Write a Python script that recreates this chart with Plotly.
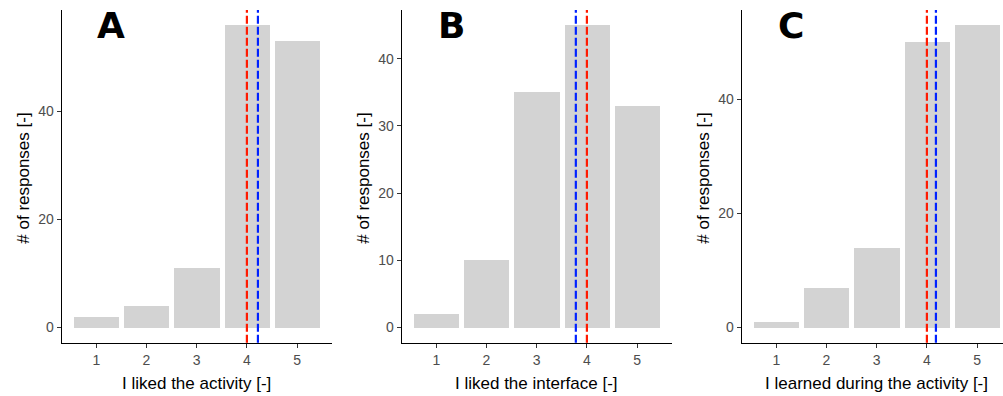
import plotly.graph_objects as go

# ---- data ----
ratings = [1, 2, 3, 4, 5]
counts_activity = [2, 4, 11, 56, 53]
counts_interface = [2, 10, 35, 45, 33]
counts_learned = [1, 7, 14, 50, 53]
medians = [4, 4, 4]
means = [4.22, 3.78, 4.18]
panel_letters = ["A", "B", "C"]
x_titles = ["I liked the activity [-]", "I liked the interface [-]", "I learned during the activity [-]"]
y_title = "# of responses [-]"
y_ticks = [[0, 20, 40], [0, 10, 20, 30, 40], [0, 20, 40]]

W, H = 1003, 396
FONT = "Liberation Sans, Arial, sans-serif"

fig = go.Figure()

series = [counts_activity, counts_interface, counts_learned]
lefts = [61.7, 401.7, 741.7]
plot_w = 270.0
top_px, bot_px = 10.0, 342.7
xr_full = [0.31, 5.69]
px_per_unit = plot_w / (xr_full[1] - xr_full[0])

for i, counts in enumerate(series):
    n = i + 1
    xa = "x" if n == 1 else f"x{n}"
    ya = "y" if n == 1 else f"y{n}"
    fig.add_trace(go.Bar(
        x=ratings, y=counts, width=0.9,
        marker=dict(color="#d3d3d3", line=dict(width=0)),
        xaxis=xa, yaxis=ya, showlegend=False, hoverinfo="x+y",
    ))
    left = lefts[i]
    right = min(left + plot_w, W)
    xr = [xr_full[0], xr_full[0] + (right - left) / px_per_unit]
    ymax = max(counts)
    yr = [-0.05 * ymax, ymax * 1.05]
    axis_common = dict(
        showgrid=False, zeroline=False, showline=True, linecolor="black", linewidth=1.1,
        ticks="outside", ticklen=4, tickcolor="#333333", tickwidth=1,
        tickfont=dict(family=FONT, size=14, color="#4d4d4d"),
    )
    fig.update_layout({
        f"xaxis{'' if n == 1 else n}": dict(
            domain=[left / W, right / W], range=xr, anchor=ya,
            tickmode="array", tickvals=ratings, ticktext=[str(r) for r in ratings],
            **axis_common),
        f"yaxis{'' if n == 1 else n}": dict(
            domain=[(H - bot_px) / H, (H - top_px) / H], range=yr, anchor=xa,
            tickmode="array", tickvals=y_ticks[i], ticktext=[str(t) for t in y_ticks[i]],
            **axis_common),
    })
    for val, col in [(medians[i], "#ff1a00"), (means[i], "#0022ff")]:
        fig.add_shape(type="line", xref=xa, yref=f"{ya} domain",
                      x0=val, x1=val, y0=0, y1=1,
                      line=dict(color=col, width=2.2, dash="8px,3px"))
    cx = left + plot_w / 2
    fig.add_annotation(text=x_titles[i], xref="paper", yref="paper",
                       x=cx / W, y=(H - 383) / H, showarrow=False,
                       xanchor="center", yanchor="middle",
                       font=dict(family=FONT, size=17, color="black"))
    fig.add_annotation(text=y_title, xref="paper", yref="paper",
                       x=(left - 39) / W, y=(H - 178) / H, showarrow=False,
                       textangle=-90, xanchor="center", yanchor="middle",
                       font=dict(family=FONT, size=17, color="black"))
    fig.add_annotation(text=f"<b>{panel_letters[i]}</b>", xref="paper", yref="paper",
                       x=(left + 49.5) / W, y=(H - 25) / H, showarrow=False,
                       xanchor="center", yanchor="middle",
                       font=dict(family="DejaVu Sans, sans-serif", size=36, color="black"))

fig.update_layout(
    width=W, height=H, margin=dict(l=0, r=0, t=0, b=0),
    plot_bgcolor="white", paper_bgcolor="white", bargap=0,
)

fig.write_html("out.html", config={"displayModeBar": False},
               post_script="document.body.style.margin='0';document.body.style.overflow='hidden';")
